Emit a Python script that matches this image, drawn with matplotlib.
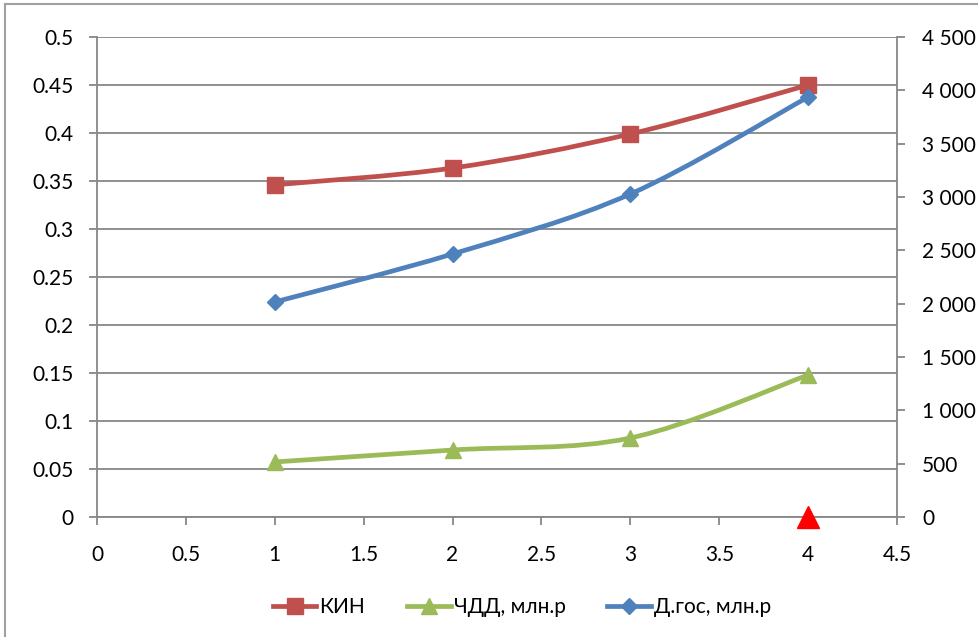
import numpy as np
import matplotlib.pyplot as plt
from matplotlib.path import Path
from matplotlib.patches import PathPatch
from matplotlib.lines import Line2D
from matplotlib.ticker import FuncFormatter

plt.rcParams['font.family'] = ['Lato', 'DejaVu Sans']

# data
x = [1, 2, 3, 4]
kin = [0.346, 0.3635, 0.399, 0.45]          # left axis
chdd = [516, 628, 741, 1331]                 # right axis, млн.р
d_gos = [2016, 2466, 3028, 3937]             # right axis, млн.р
marker_x = [4]
marker_y = [0]

left_ticks = [0, 0.05, 0.1, 0.15, 0.2, 0.25, 0.3, 0.35, 0.4, 0.45, 0.5]
right_ticks = [0, 500, 1000, 1500, 2000, 2500, 3000, 3500, 4000, 4500]
x_ticks = [0, 0.5, 1, 1.5, 2, 2.5, 3, 3.5, 4, 4.5]

RED = '#C0504D'
GREEN = '#9BBB59'
BLUE = '#4F81BD'
GRID = '#878787'


def smooth_path(xs, ys):
    # excel-style smoothed line: cubic bezier segments through the points
    pts = np.column_stack([xs, ys]).astype(float)
    n = len(pts)
    verts = [pts[0]]
    codes = [Path.MOVETO]
    for i in range(n - 1):
        p0 = pts[i - 1] if i > 0 else pts[i]
        p1 = pts[i]
        p2 = pts[i + 1]
        p3 = pts[i + 2] if i + 2 < n else pts[i + 1]
        c1 = p1 + (p2 - p0) / 6.0
        c2 = p2 - (p3 - p1) / 6.0
        verts += [c1, c2, p2]
        codes += [Path.CURVE4] * 3
    return Path(verts, codes)


fig = plt.figure(figsize=(9.79, 6.37), dpi=100)
ax = fig.add_axes([97/979, 1 - 517/637, 800/979, 480/637])
ax2 = ax.twinx()

ax.set_xlim(0, 4.5)
ax.set_ylim(0, 0.5)
ax2.set_ylim(0, 4500)

ax.set_xticks(x_ticks)
ax.set_xticklabels([('%g' % t) for t in x_ticks])
ax.set_yticks(left_ticks)
ax.set_yticklabels(['0' if t == 0 else ('%g' % t) for t in left_ticks])
ax2.set_yticks(right_ticks)
ax2.yaxis.set_major_formatter(FuncFormatter(lambda v, p: '{:,.0f}'.format(v).replace(',', ' ')))

ax.grid(axis='y', color=GRID, linewidth=1.3)
ax.set_axisbelow(True)
for a in (ax, ax2):
    for s in a.spines.values():
        s.set_color(GRID)
        s.set_linewidth(1.3)
    a.spines['top'].set_visible(False)
ax.spines['right'].set_visible(False)
ax2.spines['left'].set_visible(False)
ax2.spines['bottom'].set_visible(False)

ax.tick_params(axis='both', colors=GRID, labelcolor='black', labelsize=15, length=6, width=1.3)
ax.tick_params(axis='x', pad=14)
ax.tick_params(axis='y', pad=11)
ax2.tick_params(axis='y', colors=GRID, labelcolor='black', labelsize=15, length=6, width=1.3, pad=12)

# lines
lw = 3.4
ax.add_patch(PathPatch(smooth_path(x, kin), fill=False, edgecolor=RED, lw=lw, capstyle='round', zorder=3))
ax.plot(x, kin, ls='none', marker='s', ms=11, color=RED, zorder=4)

ax2.add_patch(PathPatch(smooth_path(x, chdd), fill=False, edgecolor=GREEN, lw=lw, capstyle='round', zorder=3))
ax2.plot(x, chdd, ls='none', marker='^', ms=12, color=GREEN, zorder=4)

ax2.add_patch(PathPatch(smooth_path(x, d_gos), fill=False, edgecolor=BLUE, lw=lw, capstyle='round', zorder=3))
ax2.plot(x, d_gos, ls='none', marker='D', ms=7.8, color=BLUE, zorder=4)

ax2.plot(marker_x, marker_y, ls='none', marker='^', ms=16, color='#FF0000', zorder=5, clip_on=False)

handles = [
    Line2D([], [], color=RED, lw=lw, marker='s', ms=11),
    Line2D([], [], color=GREEN, lw=lw, marker='^', ms=12),
    Line2D([], [], color=BLUE, lw=lw, marker='D', ms=7.8),
]
fig.legend(handles, ['КИН', 'ЧДД, млн.р', 'Д.гос, млн.р'], loc='center',
           bbox_to_anchor=(522/979, 1 - 607/637), ncol=3, frameon=False,
           fontsize=15, handlelength=2.1, handletextpad=0.15, columnspacing=2.0)

# chart area frame (left and top edges)
fig.add_artist(Line2D([5/979, 5/979], [0, 1 - 4/637], color='#A0A0A0', lw=1.5))
fig.add_artist(Line2D([5/979, 1], [1 - 4/637, 1 - 4/637], color='#A0A0A0', lw=1.5))

fig.savefig('out.png', dpi=100)
